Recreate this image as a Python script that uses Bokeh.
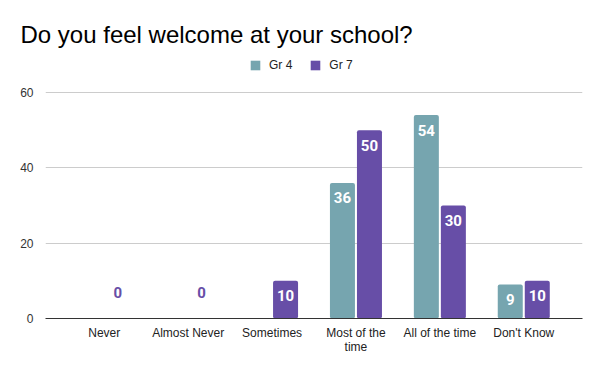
from bokeh.plotting import figure
from bokeh.models import FactorRange, Range1d, ColumnDataSource, Legend, LegendItem, FixedTicker
from bokeh.transform import dodge
from bokeh.core.properties import value
from bokeh.embed import file_html
from bokeh.resources import INLINE

categories = ["Never", "Almost Never", "Sometimes", "Most of the\ntime", "All of the time", "Don't Know"]
series_names = ["Gr 4", "Gr 7"]
gr4 = [None, None, None, 36, 54, 9]
gr7 = [0, 0, 10, 50, 30, 10]
y_ticks = [0, 20, 40, 60]

colors = ["#76A5AF", "#674EA7"]
offsets = [-0.161, 0.161]
bar_w = 0.298

p = figure(width=600, height=371, output_backend="svg", toolbar_location=None,
           x_range=FactorRange(*categories, range_padding=0.2, range_padding_units="absolute"),
           y_range=Range1d(0, 70.62),
           min_border_left=45, min_border_right=18, min_border_top=52, min_border_bottom=53)
p.outline_line_color = None
p.background_fill_color = "white"

p.title.text = "Do you feel welcome at your school?"
p.title.text_font = "Liberation Sans"
p.title.text_font_size = "24px"
p.title.text_font_style = "normal"
p.title.text_color = "#000000"
p.title.align = "left"
p.title.offset = -25

items = []
for name, vals, col, off in zip(series_names, [gr4, gr7], colors, offsets):
    cats = [c for c, v in zip(categories, vals) if v is not None]
    vs = [v for v in vals if v is not None]
    src = ColumnDataSource(dict(x=cats, top=vs))
    r = p.vbar(x=dodge("x", off, range=p.x_range), top="top", width=bar_w, source=src,
               fill_color=col, line_color=None, border_radius=2)
    items.append(LegendItem(label=name, renderers=[r]))
    pos = ColumnDataSource(dict(x=[c for c, v in zip(cats, vs) if v > 0],
                                y=[v for v in vs if v > 0],
                                lab=[str(v) for v in vs if v > 0]))
    p.text(x=dodge("x", off, range=p.x_range), y="y", text="lab", source=pos,
           text_color="white", text_font=value("Roboto"), text_font_style="bold",
           text_font_size="15px", text_align="center", text_baseline="middle", y_offset=15)
    zc = [c for c, v in zip(cats, vs) if v == 0]
    if zc:
        zero = ColumnDataSource(dict(x=zc, y=[0] * len(zc), lab=["0"] * len(zc)))
        p.text(x=dodge("x", off, range=p.x_range), y="y", text="lab", source=zero,
               text_color=col, text_font=value("Roboto"), text_font_style="bold",
               text_font_size="15px", text_align="center", text_baseline="middle", y_offset=-26)

legend = Legend(items=items, orientation="horizontal", location=(204, 246),
                label_text_font="Liberation Sans", label_text_font_size="12px",
                label_text_color="#222222", glyph_width=12, glyph_height=12,
                label_standoff=8, spacing=17, padding=0, margin=0, label_height=12,
                border_line_color=None, background_fill_alpha=0)
p.add_layout(legend)

p.xgrid.grid_line_color = None
p.ygrid.grid_line_color = "#CCCCCC"
p.ygrid.ticker = FixedTicker(ticks=y_ticks)
p.yaxis.ticker = FixedTicker(ticks=y_ticks)
p.yaxis.axis_line_color = None
p.yaxis.major_tick_line_color = None
p.yaxis.minor_tick_line_color = None
p.yaxis.major_label_text_font = "Liberation Sans"
p.yaxis.major_label_text_font_size = "12px"
p.yaxis.major_label_text_color = "#333333"
p.yaxis.major_label_standoff = 6

p.xaxis.axis_line_color = "#333333"
p.xaxis.major_tick_line_color = None
p.xaxis.minor_tick_line_color = None
p.xaxis.major_label_text_font = "Liberation Sans"
p.xaxis.major_label_text_font_size = "12px"
p.xaxis.major_label_text_color = "#222222"
p.xaxis.major_label_text_line_height = 1.0
p.xaxis.major_label_standoff = 1

open("out.html", "w").write(file_html(p, INLINE))
